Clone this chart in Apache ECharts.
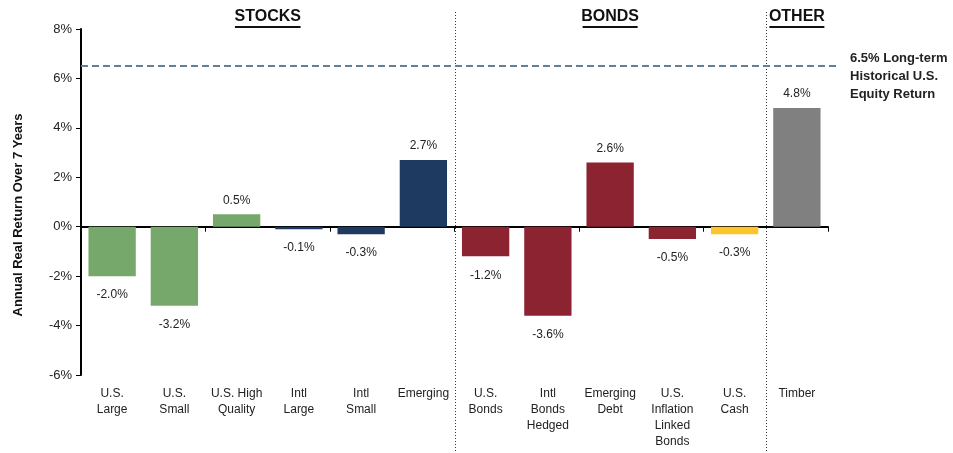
<!DOCTYPE html>
<html>
<head>
<meta charset="utf-8">
<script src="https://cdn.jsdelivr.net/npm/echarts@6/dist/echarts.min.js"></script>
<style>
  html, body { margin: 0; padding: 0; background: #fff; }
  #chart { width: 953px; height: 453px; }
</style>
</head>
<body>
<div id="chart"></div>
<script>
// data
const categories = ['U.S.\nLarge', 'U.S.\nSmall', 'U.S. High\nQuality', 'Intl\nLarge', 'Intl\nSmall', 'Emerging',
  'U.S.\nBonds', 'Intl\nBonds\nHedged', 'Emerging\nDebt', 'U.S.\nInflation\nLinked\nBonds', 'U.S.\nCash', 'Timber']
const returns = [-2.0, -3.2, 0.5, -0.1, -0.3, 2.7, -1.2, -3.6, 2.6, -0.5, -0.3, 4.8]
const groups = [
  { name: 'STOCKS', from: 0, to: 5 },
  { name: 'BONDS', from: 6, to: 10 },
  { name: 'OTHER', from: 11, to: 11 },
]
const equityReturn = 6.5
const yTicks = { min: -6, max: 8, interval: 2 }
const yTitle = 'Annual Real Return Over 7 Years'

// colours per bar
const barColors = ['#77a86b', '#77a86b', '#77a86b', '#1f3a60', '#1f3a60', '#1f3a60',
  '#8c2331', '#8c2331', '#8c2331', '#8c2331', '#fdc52c', '#808080']

const font = 'Liberation Sans, Arial, sans-serif'
const chart = echarts.init(document.getElementById('chart'))

const option = {
  backgroundColor: '#fff',
  animation: false,
  grid: { left: 81, right: 125, top: 29, bottom: 78 },
  xAxis: [
    {
      type: 'category',
      data: categories,
      position: 'bottom',
      axisLine: { show: false, onZero: false },
      axisTick: { show: false },
      axisLabel: { interval: 0, color: '#222', fontSize: 12, fontFamily: font, lineHeight: 16, margin: 11 },
    },
    {
      type: 'category',
      data: categories,
      position: 'top',
      axisLine: { show: true, onZero: true, lineStyle: { color: '#000', width: 2 } },
      axisTick: { show: true, inside: true, length: 5, lineStyle: { color: '#000', width: 1 } },
      axisLabel: { show: false },
    },
  ],
  yAxis: {
    type: 'value',
    min: yTicks.min,
    max: yTicks.max,
    interval: yTicks.interval,
    axisLine: { show: true, lineStyle: { color: '#000', width: 2 } },
    axisTick: { show: true, length: 5, lineStyle: { color: '#000' } },
    axisLabel: { formatter: '{value}%', color: '#222', fontSize: 13, fontFamily: font, margin: 9 },
    splitLine: { show: false },
  },
  series: [
    {
      type: 'bar',
      xAxisIndex: 0,
      barWidth: '76%',
      data: returns.map((v, i) => ({
        value: v,
        itemStyle: { color: barColors[i] },
        label: { position: v < 0 ? 'bottom' : 'top', distance: v < 0 ? 13 : 8 },
      })),
      label: {
        show: true,
        formatter: (p) => p.value.toFixed(1) + '%',
        color: '#222',
        fontSize: 12,
        fontFamily: font,
      },
    },
  ],
}
chart.setOption(option)

// overlays positioned through the chart's own scales
function px(catIndex) {
  return chart.convertToPixel({ xAxisIndex: 0 }, catIndex)
}
const step = px(1) - px(0)
const yLine = chart.convertToPixel({ yAxisIndex: 0 }, equityReturn)
const gridLeft = px(0) - step / 2
const gridRight = px(categories.length - 1) + step / 2

const graphics = []
// y axis title
graphics.push({
  type: 'text',
  x: 18,
  y: 215,
  rotation: Math.PI / 2,
  style: { text: yTitle, font: 'bold 13px ' + font, fill: '#111', align: 'center', verticalAlign: 'middle' },
})
// divider lines between groups
groups.slice(1).forEach((g) => {
  const x = Math.round(px(g.from) - step / 2) + 0.5
  graphics.push({
    type: 'line',
    shape: { x1: x, y1: 12, x2: x, y2: 453 },
    style: { stroke: '#333', lineWidth: 1, lineDash: [1, 2] },
    z: 10,
  })
})
// group headers with underline
groups.forEach((g) => {
  const cx = (px(g.from) + px(g.to)) / 2
  graphics.push({
    type: 'text',
    x: cx,
    y: 17,
    style: { text: g.name, font: 'bold 16px ' + font, fill: '#111', align: 'center', verticalAlign: 'middle' },
    z: 10,
  })
  const w = g.name.length * 10.6
  graphics.push({
    type: 'line',
    shape: { x1: cx - w / 2 - 1, y1: 27, x2: cx + w / 2 + 1, y2: 27 },
    style: { stroke: '#111', lineWidth: 2 },
    z: 10,
  })
})
// long-term equity return line
graphics.push({
  type: 'line',
  shape: { x1: gridLeft, y1: yLine, x2: gridRight + 12, y2: yLine },
  style: { stroke: '#5f8299', lineWidth: 2, lineDash: [7, 4] },
  z: 10,
})
graphics.push({
  type: 'text',
  x: gridRight + 22,
  y: yLine - 17,
  style: {
    text: equityReturn + '% Long-term\nHistorical U.S.\nEquity Return',
    font: 'bold 13px ' + font,
    fill: '#222',
    lineHeight: 18,
    align: 'left',
    verticalAlign: 'top',
  },
  z: 10,
})
chart.setOption({ graphic: graphics })
</script>
</body>
</html>
